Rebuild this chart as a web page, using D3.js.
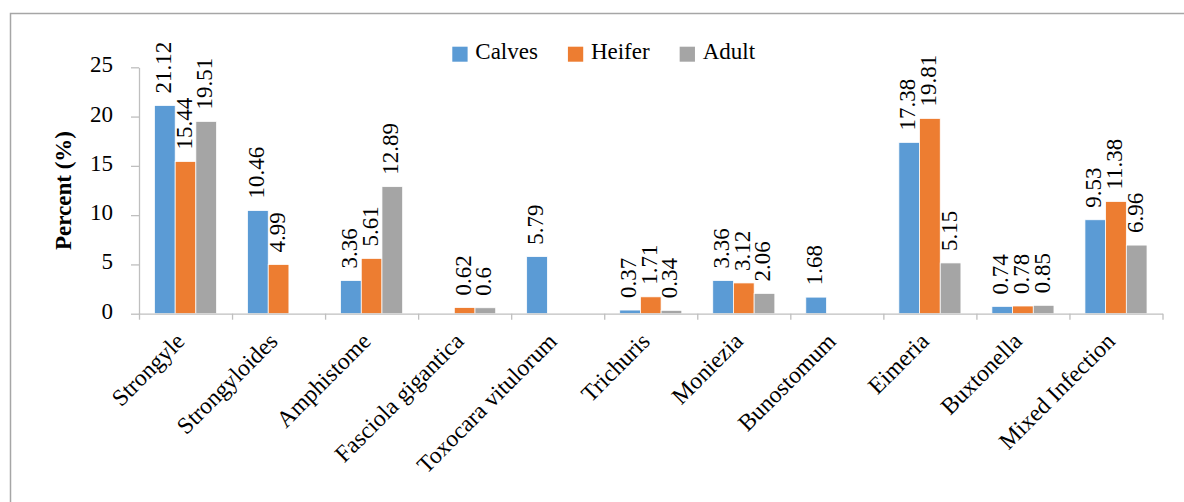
<!DOCTYPE html>
<html>
<head>
<meta charset="utf-8">
<script src="https://cdn.jsdelivr.net/npm/d3@7/dist/d3.min.js"></script>
<style>
  html, body { margin: 0; padding: 0; background: #ffffff; }
  svg { display: block; }
  text { font-family: "Liberation Serif", "Times New Roman", serif; fill: #000; }
</style>
</head>
<body>
<svg id="chart" width="1184" height="502"></svg>
<script>
// Parasite categories along the x axis
const categories = [
  "Strongyle", "Strongyloides", "Amphistome", "Fasciola gigantica",
  "Toxocara vitulorum", "Trichuris", "Moniezia", "Bunostomum",
  "Eimeria", "Buxtonella", "Mixed Infection"
];

// Prevalence (%) per age group; null = not recorded
const calves = [21.12, 10.46, 3.36, null, 5.79, 0.37, 3.36, 1.68, 17.38, 0.74, 9.53];
const heifer = [15.44, 4.99, 5.61, 0.62, null, 1.71, 3.12, null, 19.81, 0.78, 11.38];
const adult  = [19.51, null, 12.89, 0.6, null, 0.34, 2.06, null, 5.15, 0.85, 6.96];

const seriesNames = ["Calves", "Heifer", "Adult"];
const seriesValues = [calves, heifer, adult];
const seriesColors = ["#5b9bd5", "#ed7d31", "#a5a5a5"];

const yTicks = [0, 5, 10, 15, 20, 25];
const yTitle = "Percent (%)";

const svg = d3.select("#chart");
const W = 1184, H = 502;
const font = 23;
const serif = "Liberation Serif";
const axisColor = "#bfbfbf";

// outer frame of the chart area
svg.append("rect")
  .attr("x", 10.5).attr("y", 13.5)
  .attr("width", W + 20).attr("height", H + 20)
  .attr("fill", "#fff")
  .attr("stroke", "#a6a6a6").attr("stroke-width", 1.5);

const plot = { left: 139, right: 1162.5, top: 67.3, bottom: 313.7 };

const x = d3.scaleBand()
  .domain(categories)
  .range([plot.left, plot.right])
  .padding(0);

const bw = x.bandwidth();
const sub = d3.scaleBand()
  .domain(seriesNames)
  .range([bw * 0.1665, bw * 0.8335])
  .padding(0);

const y = d3.scaleLinear()
  .domain([0, 25])
  .range([plot.bottom, plot.top]);

// rows of bar records
const bars = [];
seriesNames.forEach((s, si) => {
  categories.forEach((c, ci) => {
    const v = seriesValues[si][ci];
    if (v !== null && v !== undefined) bars.push({ cat: c, series: s, si, value: v });
  });
});

// bars
svg.append("g").selectAll("rect")
  .data(bars)
  .join("rect")
  .attr("x", d => x(d.cat) + sub(d.series))
  .attr("y", d => y(d.value))
  .attr("width", sub.bandwidth())
  .attr("height", d => y(0) - y(d.value))
  .attr("fill", d => seriesColors[d.si])
  .attr("stroke", "#ffffff")
  .attr("stroke-width", 0.75);

// y axis
const yAxis = svg.append("g")
  .attr("transform", `translate(${plot.left},0)`)
  .call(d3.axisLeft(y).tickValues(yTicks).tickSize(8).tickSizeOuter(0).tickPadding(18));
yAxis.select(".domain").attr("stroke", axisColor).attr("stroke-width", 1.3);
yAxis.selectAll(".tick line").attr("stroke", axisColor).attr("stroke-width", 1.3);
yAxis.selectAll(".tick text")
  .attr("font-size", font)
  .attr("font-family", serif)
  .attr("dy", null)
  .attr("y", 4.5)
  .attr("fill", "#000");

// x axis: boundary ticks between categories
const xEdge = d3.scaleLinear().domain([0, categories.length]).range([plot.left, plot.right]);
const xAxisTicks = svg.append("g")
  .attr("transform", `translate(0,${plot.bottom})`)
  .call(d3.axisBottom(xEdge).tickValues(d3.range(categories.length + 1)).tickSize(6).tickSizeOuter(0).tickFormat(""));
xAxisTicks.select(".domain").attr("stroke", axisColor).attr("stroke-width", 1.3);
xAxisTicks.selectAll(".tick line").attr("stroke", axisColor).attr("stroke-width", 1.3);

// x axis: rotated category labels
const xAxisLabels = svg.append("g")
  .attr("transform", `translate(0,${plot.bottom})`)
  .call(d3.axisBottom(x).tickSize(0).tickPadding(0));
xAxisLabels.select(".domain").remove();
xAxisLabels.selectAll(".tick text")
  .attr("font-size", 23.6)
  .attr("font-family", serif)
  .attr("fill", "#000")
  .attr("text-anchor", "end")
  .attr("dy", null)
  .attr("y", null)
  .attr("transform", "translate(0.5,29) rotate(-45)");

// value labels, rotated upright above each bar
svg.append("g")
  .attr("font-family", serif)
  .selectAll("text")
  .data(bars)
  .join("text")
  .attr("font-family", serif)
  .attr("font-size", font)
  .attr("fill", "#000")
  .attr("text-anchor", "start")
  .attr("transform", d => {
    const cx = x(d.cat) + sub(d.series) + sub.bandwidth() / 2 + 6;
    const cy = y(d.value) - 12;
    return `translate(${cx},${cy}) rotate(-90)`;
  })
  .text(d => String(d.value));

// y axis title
svg.append("text")
  .attr("transform", `translate(71,${(plot.top + plot.bottom) / 2}) rotate(-90)`)
  .attr("text-anchor", "middle")
  .attr("font-family", serif)
  .attr("font-size", font)
  .attr("font-weight", "bold")
  .text(yTitle);

// legend
const legend = svg.append("g");
let lx = 452.3;
seriesNames.forEach((s, i) => {
  legend.append("rect")
    .attr("x", lx).attr("y", 46.7)
    .attr("width", 15.3).attr("height", 15)
    .attr("fill", seriesColors[i]);
  const t = legend.append("text")
    .attr("x", lx + 23).attr("y", 59)
    .attr("font-family", serif)
    .attr("font-size", font)
    .text(s);
  lx += 23 + t.node().getComputedTextLength() + 30;
});
</script>
</body>
</html>
